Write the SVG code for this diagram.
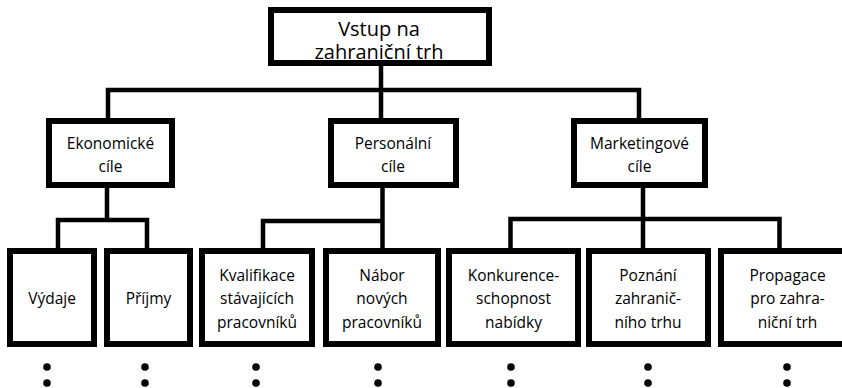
<svg xmlns="http://www.w3.org/2000/svg" width="842" height="388" viewBox="0 0 842 388">
<style>
.box{fill:#fff;stroke:#000;stroke-width:6}
.ln{fill:none;stroke:#000;stroke-width:4.5;stroke-linejoin:miter}
text{font-family:"Open Sans","Noto Sans","DejaVu Sans",sans-serif;fill:#000;text-anchor:middle}
.t0{font-size:20px}
.t1{font-size:15.5px}
.t2{font-size:15.5px}
.dot{fill:#000}
</style>
<rect x="0" y="0" width="842" height="388" fill="#fff"/>
<g id="connectors">
<path class="ln" d="M381 66 V118"/>
<path class="ln" d="M108 118 V90 H639 V118"/>
<path class="ln" d="M107 188 V220"/>
<path class="ln" d="M58 248 V220 H147 V248"/>
<path class="ln" d="M382.5 188 V248"/>
<path class="ln" d="M263 248 V221 H382.5"/>
<path class="ln" d="M643 188 V248"/>
<path class="ln" d="M510.5 248 V219 H779.5 V248"/>
</g>
<g id="root">
<rect class="box" x="271" y="10" width="218" height="53"/>
<text class="t0" x="379" y="35.5">Vstup na</text>
<text class="t0" x="379" y="59">zahraniční trh</text>
</g>
<g id="ekonomicke">
<rect class="box" x="49" y="121" width="123" height="64"/>
<text class="t1" x="110.5" y="149">Ekonomické</text>
<text class="t1" x="110.5" y="172">cíle</text>
</g>
<g id="personalni">
<rect class="box" x="331" y="121" width="125" height="64"/>
<text class="t1" x="393" y="149">Personální</text>
<text class="t1" x="393" y="172">cíle</text>
</g>
<g id="marketingove">
<rect class="box" x="574" y="121" width="131" height="64"/>
<text class="t1" x="639.5" y="149">Marketingové</text>
<text class="t1" x="639.5" y="172">cíle</text>
</g>
<g id="vydaje">
<rect class="box" x="10" y="251" width="84" height="93"/>
<text class="t2" x="52" y="304">Výdaje</text>
</g>
<g id="prijmy">
<rect class="box" x="107" y="251" width="83" height="93"/>
<text class="t2" x="148.5" y="304">Příjmy</text>
</g>
<g id="kvalifikace">
<rect class="box" x="202" y="251" width="110" height="93"/>
<text class="t2" x="257" y="281">Kvalifikace</text>
<text class="t2" x="257" y="304">stávajících</text>
<text class="t2" x="257" y="328">pracovníků</text>
</g>
<g id="nabor">
<rect class="box" x="326" y="251" width="112" height="93"/>
<text class="t2" x="382" y="281">Nábor</text>
<text class="t2" x="382" y="304">nových</text>
<text class="t2" x="382" y="328">pracovníků</text>
</g>
<g id="konkurence">
<rect class="box" x="449" y="251" width="129" height="93"/>
<text class="t2" x="513.5" y="281">Konkurence-</text>
<text class="t2" x="513.5" y="304">schopnost</text>
<text class="t2" x="513.5" y="328">nabídky</text>
</g>
<g id="poznani">
<rect class="box" x="589" y="251" width="119" height="93"/>
<text class="t2" x="648" y="281">Poznání</text>
<text class="t2" x="648" y="304">zahranič-</text>
<text class="t2" x="648" y="328">ního trhu</text>
</g>
<g id="propagace">
<rect class="box" x="721" y="251" width="134" height="93"/>
<text class="t2" x="787.5" y="281">Propagace</text>
<text class="t2" x="787.5" y="304">pro zahra-</text>
<text class="t2" x="787.5" y="328">niční trh</text>
</g>
<g id="dots">
<circle class="dot" cx="47" cy="367" r="3.8"/><circle class="dot" cx="47" cy="383" r="3.8"/>
<circle class="dot" cx="145" cy="367" r="3.8"/><circle class="dot" cx="145" cy="383" r="3.8"/>
<circle class="dot" cx="256" cy="367" r="3.8"/><circle class="dot" cx="256" cy="383" r="3.8"/>
<circle class="dot" cx="378" cy="367" r="3.8"/><circle class="dot" cx="378" cy="383" r="3.8"/>
<circle class="dot" cx="511" cy="367" r="3.8"/><circle class="dot" cx="511" cy="383" r="3.8"/>
<circle class="dot" cx="648" cy="367" r="3.8"/><circle class="dot" cx="648" cy="383" r="3.8"/>
<circle class="dot" cx="787" cy="367" r="3.8"/><circle class="dot" cx="787" cy="383" r="3.8"/>
</g>
</svg>
